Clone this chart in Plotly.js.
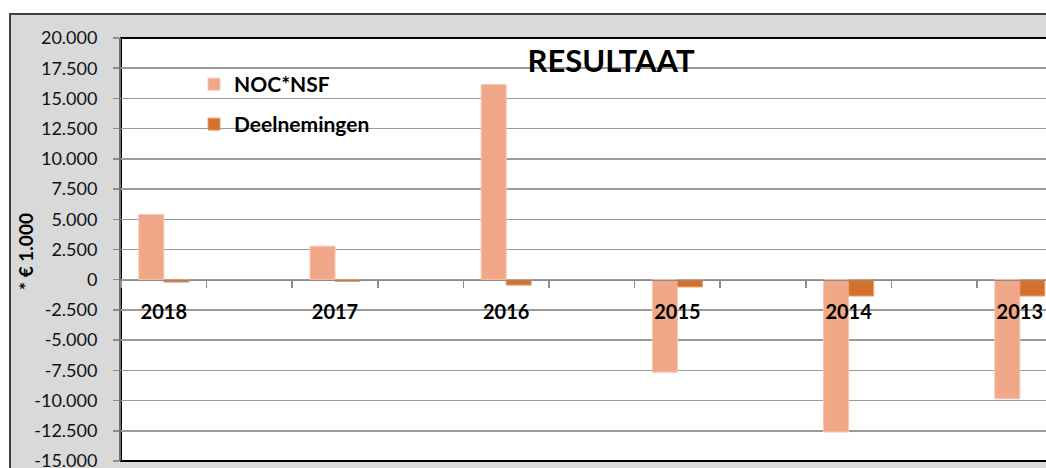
<!DOCTYPE html>
<html>
<head>
<meta charset="utf-8">
<script src="https://cdn.plot.ly/plotly-3.0.1.min.js"></script>
<style>html,body{margin:0;padding:0;background:#fff;}#chart{width:1046px;height:468px;}</style>
</head>
<body>
<div id="chart"></div>
<script>
// ---- data ----
const years = ['2018', '2017', '2016', '2015', '2014', '2013'];
const nocValues = [5400, 2770, 16150, -7650, -12600, -9850];
const deelValues = [-200, -150, -450, -600, -1350, -1350];
const seriesNames = ['NOC*NSF', 'Deelnemingen'];
const yTickVals = [20000, 17500, 15000, 12500, 10000, 7500, 5000, 2500, 0, -2500, -5000, -7500, -10000, -12500, -15000];
const yTickText = ['20.000', '17.500', '15.000', '12.500', '10.000', '7.500', '5.000', '2.500', '0', '-2.500', '-5.000', '-7.500', '-10.000', '-12.500', '-15.000'];
const chartTitle = 'RESULTAAT';
const yTitle = '* € 1.000';

// category axis: each year followed by an empty spacer category
const categories = [];
years.forEach((y, i) => { categories.push(y); categories.push(' '.repeat(i + 1)); });

const FONT = 'Lato, "Open Sans", sans-serif';
const W = 1046, H = 468;
const L = 121, T = 38, B = 7, R = 0;
const pw = W - L - R, ph = H - T - B;
const px = x => (x - L) / pw;          // pixel x -> paper x
const py = y => 1 - (y - T) / ph;      // pixel y -> paper y

const traces = [
  { type: 'bar', name: seriesNames[0], x: years, y: nocValues,
    marker: { color: '#F0A888', line: { color: '#F6C6B0', width: 1 } },
    legend: 'legend', hoverinfo: 'x+y' },
  { type: 'bar', name: seriesNames[1], x: years, y: deelValues,
    marker: { color: '#D4702C', line: { color: '#E8A070', width: 1 } },
    legend: 'legend2', hoverinfo: 'x+y' }
];

const layout = {
  width: W, height: H,
  margin: { l: L, r: R, t: T, b: B, pad: 0 },
  paper_bgcolor: '#ffffff',
  plot_bgcolor: 'rgba(0,0,0,0)',
  font: { family: FONT, color: '#111' },
  barmode: 'group',
  bargap: 0.416,
  bargroupgap: 0,
  title: { text: '<b>' + chartTitle + '</b>', font: { family: FONT, size: 31, color: '#000' },
           xref: 'paper', yref: 'paper', x: px(611), y: py(61), xanchor: 'center', yanchor: 'middle' },
  xaxis: {
    type: 'category', categoryorder: 'array', categoryarray: categories,
    range: [-0.5, -0.5 + pw / 85.6],
    anchor: 'free', position: 15000 / 35000,
    showgrid: false, zeroline: false,
    showline: true, linecolor: '#8c8c8c', linewidth: 1.5,
    ticks: 'outside', ticklen: 7, tickwidth: 1.5, tickcolor: '#8c8c8c',
    tickson: 'boundaries',
    ticklabelstandoff: 14,
    tickfont: { family: FONT, size: 20, color: '#000', weight: 'bold' },
    fixedrange: true
  },
  yaxis: {
    range: [-15000, 20000],
    tickvals: yTickVals, ticktext: yTickText,
    showgrid: true, gridcolor: '#9a9a9a', gridwidth: 1.5,
    zeroline: false,
    showline: true, linecolor: '#6e6e6e', linewidth: 2,
    ticks: 'outside', ticklen: 6, tickwidth: 1.5, tickcolor: '#8c8c8c',
    ticklabelstandoff: 12,
    ticklabeloverflow: 'allow',
    tickfont: { family: FONT, size: 18, color: '#111' },
    fixedrange: true
  },
  showlegend: true,
  legend: {
    x: px(194), y: py(84.5), xanchor: 'left', yanchor: 'middle',
    xref: 'paper', yref: 'paper',
    bgcolor: 'rgba(0,0,0,0)', borderwidth: 0,
    font: { family: FONT, size: 21, color: '#000', weight: 'bold' }
  },
  legend2: {
    x: px(194), y: py(124.5), xanchor: 'left', yanchor: 'middle',
    xref: 'paper', yref: 'paper',
    bgcolor: 'rgba(0,0,0,0)', borderwidth: 0,
    font: { family: FONT, size: 21, color: '#000', weight: 'bold' }
  },
  shapes: [
    // chart area (grey) with dark border
    { type: 'rect', layer: 'below', xref: 'paper', yref: 'paper',
      x0: px(10), x1: 1.3, y0: -0.2, y1: py(14),
      fillcolor: '#d9d9d9', line: { color: '#404040', width: 2 } },
    // plot area (white) with black border
    { type: 'rect', layer: 'below', xref: 'paper', yref: 'paper',
      x0: 0, x1: 1.3, y0: 0, y1: 1,
      fillcolor: '#ffffff', line: { color: '#000000', width: 2 } }
  ],
  annotations: [
    { text: '<b>' + yTitle + '</b>', xref: 'paper', yref: 'paper',
      x: px(26), y: py(252), xanchor: 'center', yanchor: 'middle',
      textangle: -90, showarrow: false,
      font: { family: FONT, size: 19, color: '#000' } }
  ]
};

Plotly.newPlot('chart', traces, layout, { displayModeBar: false, staticPlot: true });
</script>
</body>
</html>
